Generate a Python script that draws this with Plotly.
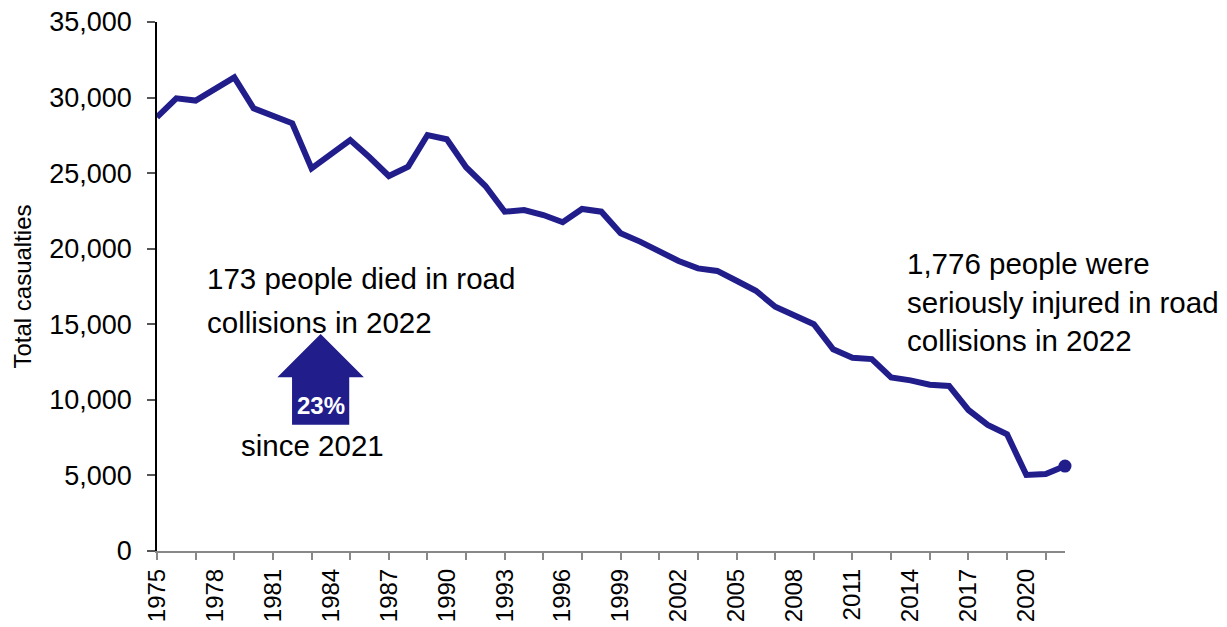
import plotly.graph_objects as go

years = list(range(1975, 2023))
casualties = [
    28700, 29950, 29800, 30550, 31340, 29290, 28800, 28300, 25320, 26200,
    27190, 26050, 24810, 25430, 27520, 27240, 25390, 24150, 22450, 22560,
    22230, 21750, 22630, 22450, 21020, 20470, 19810, 19190, 18700, 18530,
    17880, 17220, 16160, 15550, 15000, 13340, 12790, 12700, 11490, 11290,
    11000, 10920, 9330, 8340, 7720, 5030, 5100, 5620,
]
label_years = list(range(1975, 2021, 3))
tick_years = list(range(1975, 2022, 2))
y_ticks = list(range(0, 35001, 5000))

NAVY = "#211E8C"
FONT = "Liberation Sans, Arial, sans-serif"

fig = go.Figure()
fig.add_trace(go.Scatter(
    x=years, y=casualties, mode="lines", xaxis="x",
    line=dict(color=NAVY, width=6), cliponaxis=False, hoverinfo="skip",
))
fig.add_trace(go.Scatter(
    x=years[-1:], y=casualties[-1:], mode="markers", xaxis="x2",
    marker=dict(color=NAVY, size=13), cliponaxis=False, hoverinfo="skip",
))

# up arrow (annotation graphic)
arrow = "M 1981.23 11493 L 1983.47 14358 L 1985.71 11493 L 1984.95 11493 L 1984.95 8357 L 1981.99 8357 L 1981.99 11493 Z"
fig.add_shape(type="path", path=arrow, xref="x", yref="y",
              fillcolor=NAVY, line=dict(width=0), layer="above")

def txt(x, y, s, size=29.5, color="black", bold=False, xanchor="left"):
    fig.add_annotation(x=x, y=y, xref="x", yref="y", text=(f"<b>{s}</b>" if bold else s),
                       showarrow=False, xanchor=xanchor, yanchor="middle",
                       font=dict(family=FONT, size=size, color=color))

txt(1977.48, 18000, "173 people died in road")
txt(1977.48, 15150, "collisions in 2022")
txt(1983.47, 9660, "23%", size=24, color="white", bold=True, xanchor="center")
txt(1983.07, 6950, "since 2021", xanchor="center")
txt(2013.72, 18990, "1,776 people were")
txt(2013.72, 16410, "seriously injured in road")
txt(2013.72, 13900, "collisions in 2022")

# the page body adds an 8px offset; size the figure so the plot area lands where the reference has it
fig.update_layout(
    width=1219, height=619,
    margin=dict(l=149, r=162, t=14, b=76),
    paper_bgcolor="white", plot_bgcolor="white",
    showlegend=False,
    font=dict(family=FONT, size=25, color="black"),
    xaxis=dict(
        range=[1975, 2022], tickmode="array", tickvals=tick_years,
        showticklabels=False, ticks="outside", ticklen=7, tickcolor="#888888",
        tickwidth=1.5, showline=True, linecolor="#888888", linewidth=1.5,
        showgrid=False, zeroline=False, automargin=False,
    ),
    xaxis2=dict(
        range=[1975, 2022], overlaying="x", anchor="y", side="bottom",
        tickmode="array", tickvals=label_years, ticktext=[str(v) for v in label_years],
        tickangle=-90, ticks="", ticklabelstandoff=12, showline=False,
        showgrid=False, zeroline=False, automargin=False, ticklabeloverflow="allow",
        tickfont=dict(family=FONT, size=24, color="black"),
    ),
    yaxis=dict(
        range=[0, 35000], tickmode="array", tickvals=y_ticks,
        ticktext=[f"{v:,}" for v in y_ticks], ticks="outside", ticklen=8,
        tickcolor="#555555", tickwidth=1.5, showline=True, linecolor="black", linewidth=1.5,
        showgrid=False, zeroline=False, ticklabelstandoff=10, automargin=False,
        ticklabeloverflow="allow",
        tickfont=dict(family=FONT, size=27, color="black"),
        title=dict(text="Total casualties", font=dict(family=FONT, size=24), standoff=11),
    ),
)

fig.write_html("out.html")
